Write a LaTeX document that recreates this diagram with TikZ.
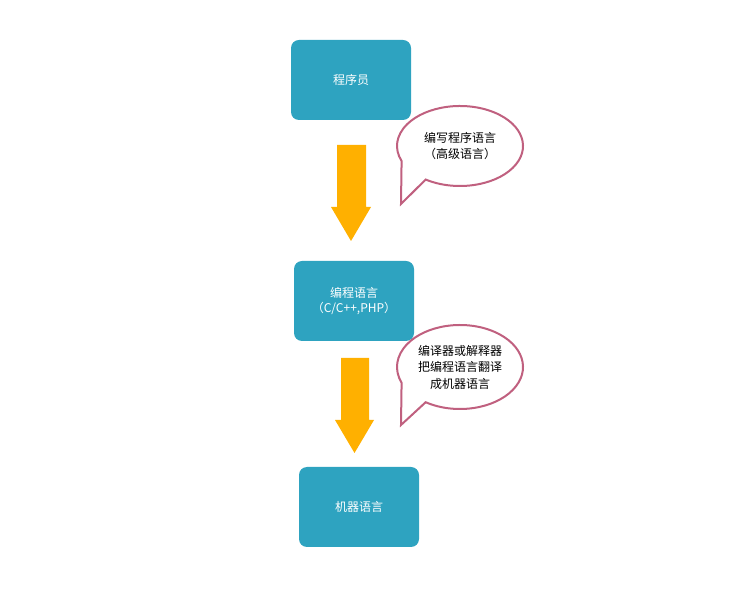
\documentclass[tikz,border=0pt]{standalone}
\usepackage{fontspec}
\setmainfont{Noto Sans CJK SC}
\usetikzlibrary{calc}
\definecolor{boxc}{HTML}{2EA3C0}
\definecolor{arrc}{HTML}{FFB000}
\definecolor{bubc}{HTML}{C0607F}
\begin{document}
\begin{tikzpicture}[x=1pt,y=1pt,
  box/.style={fill=boxc,rounded corners=8pt,minimum width=120pt,minimum height=80pt,text=white,align=center,font=\fontsize{12}{15}\selectfont},
  bub/.style={draw=bubc,line width=2pt,fill=white},
  btext/.style={align=center,font=\fontsize{12}{16.5}\selectfont}]
\useasboundingbox (0,0) rectangle (742,597);
\node[box] (b1) at (351,517) {程序员};
\node[box] (b2) at (354,296) {编程语言\\（C/C++,PHP）};
\node[box] (b3) at (359,90) {机器语言};
% arrows
\fill[arrc] (337,452) -- (366,452) -- (366,390) -- (371,390) -- (351,356) -- (331,390) -- (337,390) -- cycle;
\fill[arrc] (341,239) -- (369,239) -- (369,177) -- (374,177) -- (354.5,144) -- (335,177) -- (341,177) -- cycle;
% callouts
\coordinate (c1) at (460,451);
\coordinate (t1) at (401,393);
\draw[bub] ($(c1)+(237:63pt and 40pt)$) arc[start angle=237,end angle=562,x radius=63pt,y radius=40pt] -- (t1) -- cycle;
\node[btext] (l1) at (c1) {编写程序语言\\（高级语言）};
\coordinate (c2) at (460,230);
\coordinate (t2) at (401,172);
\draw[bub] ($(c2)+(237:63pt and 42pt)$) arc[start angle=237,end angle=562,x radius=63pt,y radius=42pt] -- (t2) -- cycle;
\node[btext] (l2) at (c2) {编译器或解释器\\把编程语言翻译\\成机器语言};
\end{tikzpicture}
\end{document}
